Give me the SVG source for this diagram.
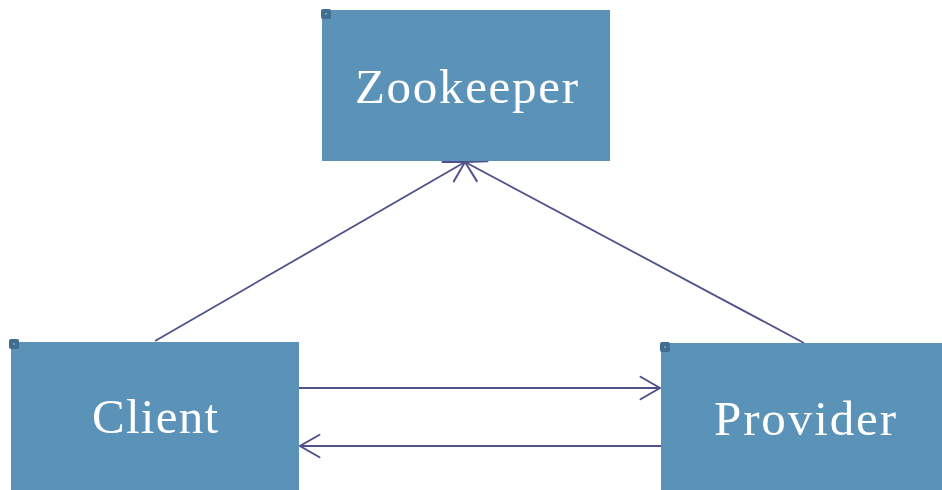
<svg xmlns="http://www.w3.org/2000/svg" width="942" height="490" viewBox="0 0 942 490">
  <defs>
    <style>
      .box { fill: #5B93B8; }
      .handle { fill: #3F6E90; }
      .dot { fill: #6A9CC0; }
      .label { font-family: "Liberation Serif", "Times New Roman", serif; font-size: 49px; fill: #FFFFFF; text-anchor: middle; }
      .conn { stroke: #4F5189; stroke-width: 1.8; fill: none; }
    </style>
    <marker id="arrow" markerUnits="userSpaceOnUse" markerWidth="24" markerHeight="26" viewBox="-20 -12 22 24" refX="0" refY="0" orient="auto">
      <path d="M -18,-10.4 L 0,0 L -18,10.4" fill="none" stroke="#4F5189" stroke-width="1.8" stroke-linecap="round" stroke-linejoin="miter"/>
    </marker>
  </defs>
  <rect width="942" height="490" fill="#FFFFFF"/>
  <g id="connectors">
    <line class="conn" x1="155" y1="341" x2="465" y2="162" marker-end="url(#arrow)"/>
    <line class="conn" x1="804" y1="343" x2="465" y2="162" marker-end="url(#arrow)"/>
    <line class="conn" x1="299" y1="388" x2="660" y2="388" marker-end="url(#arrow)"/>
    <line class="conn" x1="661" y1="446" x2="300" y2="446" marker-end="url(#arrow)"/>
  </g>
  <g id="zookeeper">
    <rect class="box" x="322" y="10" width="288" height="151"/>
    <rect class="handle" x="321" y="9" width="10" height="10" rx="2"/>
    <rect class="dot" x="325" y="13" width="2" height="2"/>
    <text class="label" x="466.5" y="103" textLength="223" lengthAdjust="spacing">Zookeeper</text>
  </g>
  <g id="client">
    <rect class="box" x="11" y="342" width="288" height="148"/>
    <rect class="handle" x="9" y="339" width="10" height="10" rx="2"/>
    <rect class="dot" x="13" y="343" width="2" height="2"/>
    <text class="label" x="155" y="433" textLength="126" lengthAdjust="spacing">Client</text>
  </g>
  <g id="provider">
    <rect class="box" x="661" y="343" width="281" height="147"/>
    <rect class="handle" x="660" y="342" width="10" height="10" rx="2"/>
    <rect class="dot" x="664" y="346" width="2" height="2"/>
    <text class="label" x="805" y="435" textLength="182" lengthAdjust="spacing">Provider</text>
  </g>
</svg>
